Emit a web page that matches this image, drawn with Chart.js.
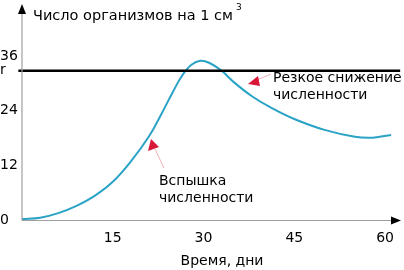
<!DOCTYPE html>
<html>
<head>
<meta charset="utf-8">
<script src="https://cdn.jsdelivr.net/npm/chart.js@4.4.1/dist/chart.umd.min.js"></script>
<style>
  html, body { margin: 0; padding: 0; background: #ffffff; }
  #wrap { width: 404px; height: 270px; position: relative; }
</style>
</head>
<body>
<div id="wrap"><canvas id="c" width="404" height="270"></canvas></div>
<script>
// ---- Data ----
const days = [0, 3, 6, 9, 12, 15, 18, 21, 23, 25, 26.5, 28, 29.5, 31, 33, 35, 38, 41, 45, 50, 55, 58, 61];
const organisms = [0.2, 0.5, 1.5, 3.1, 5.3, 8.4, 12.9, 18.4, 23.2, 28.3, 31.8, 34.1, 35, 34.5, 32.8, 30.3, 27.2, 24.8, 22.2, 19.8, 18.3, 18.1, 18.7];
const capacityR = 32.8;            // level "r"
const xTicks = [15, 30, 45, 60];
const yTicks = [0, 12, 24, capacityR, 36];
const yTickLabels = ['0', '12', '24', 'r', '36'];
const yTitle = 'Число организмов на 1 см';
const yTitleSup = '3';
const xTitle = 'Время, дни';
const noteRise = ['Вспышка', 'численности'];
const noteFall = ['Резкое снижение', 'численности'];

const FONT = '"DejaVu Sans", "Noto Sans", sans-serif';

const curve = days.map((d, i) => ({ x: d, y: organisms[i] }));
const rLine = [{ x: -0.6, y: capacityR }, { x: 62.5, y: capacityR }];

const decor = {
  id: 'decor',
  afterDatasetsDraw(chart) {
    const { ctx, chartArea: a } = chart;
    ctx.save();
    // axes (grey) with black arrowheads
    ctx.strokeStyle = '#a0a0a0';
    ctx.lineWidth = 1.2;
    ctx.beginPath();
    ctx.moveTo(a.left, a.bottom + 0.5);
    ctx.lineTo(a.left, 12);
    ctx.moveTo(a.left, a.bottom + 0.5);
    ctx.lineTo(393, a.bottom + 0.5);
    ctx.stroke();
    ctx.fillStyle = '#000';
    ctx.beginPath();
    ctx.moveTo(a.left, 4); ctx.lineTo(a.left - 4, 14); ctx.lineTo(a.left + 4, 14); ctx.closePath();
    ctx.fill();
    ctx.beginPath();
    ctx.moveTo(401, a.bottom + 0.5); ctx.lineTo(391, a.bottom - 3.5); ctx.lineTo(391, a.bottom + 4.5); ctx.closePath();
    ctx.fill();

    // red arrows with thin pink tails
    ctx.strokeStyle = '#f2b0ba';
    ctx.lineWidth = 1;
    ctx.beginPath();
    ctx.moveTo(155, 149); ctx.lineTo(164, 168);
    ctx.moveTo(257, 80); ctx.lineTo(271, 74);
    ctx.stroke();
    ctx.fillStyle = '#d8173a';
    ctx.beginPath();
    ctx.moveTo(151, 139); ctx.lineTo(148, 151); ctx.lineTo(159, 147); ctx.closePath();
    ctx.fill();
    ctx.beginPath();
    ctx.moveTo(248, 84); ctx.lineTo(258, 76); ctx.lineTo(260, 86); ctx.closePath();
    ctx.fill();

    // texts
    ctx.fillStyle = '#000';
    ctx.textBaseline = 'middle';
    ctx.textAlign = 'left';
    ctx.font = '14.5px ' + FONT;
    ctx.fillText(yTitle, 33, 16);
    const w = ctx.measureText(yTitle).width;
    ctx.font = '9px ' + FONT;
    ctx.fillText(yTitleSup, 33 + w + 3, 8);
    ctx.font = '14px ' + FONT;
    ctx.fillText(noteFall[0], 273, 78);
    ctx.fillText(noteFall[1], 273, 95);
    ctx.fillText(noteRise[0], 159, 181);
    ctx.fillText(noteRise[1], 159, 198);
    ctx.textAlign = 'center';
    ctx.fillText(xTitle, 222, 261);
    ctx.restore();
  }
};

new Chart(document.getElementById('c'), {
  type: 'line',
  data: {
    datasets: [
      {
        data: rLine,
        borderColor: '#000000',
        borderWidth: 2.5,
        pointRadius: 0,
        tension: 0,
        clip: false
      },
      {
        data: curve,
        borderColor: '#2aa3c6',
        borderWidth: 2,
        pointRadius: 0,
        tension: 0.4,
        fill: false
      }
    ]
  },
  options: {
    responsive: false,
    animation: false,
    devicePixelRatio: 1,
    layout: { padding: { top: 4, right: 1, left: 0, bottom: 0 } },
    plugins: { legend: { display: false }, tooltip: { enabled: false }, title: { display: false } },
    scales: {
      x: {
        type: 'linear',
        min: 0,
        max: 62.5,
        grid: { display: false, drawTicks: false },
        border: { display: false },
        afterBuildTicks: (s) => { s.ticks = xTicks.map(v => ({ value: v })); },
        afterFit: (s) => { s.height = 50; },
        ticks: {
          color: '#000',
          padding: 10,
          maxRotation: 0,
          font: { family: FONT, size: 14 }
        }
      },
      y: {
        type: 'linear',
        min: 0,
        max: 46.5,
        grid: { display: false, drawTicks: false },
        border: { display: false },
        afterBuildTicks: (s) => { s.ticks = yTicks.map(v => ({ value: v })); },
        afterFit: (s) => { s.width = 22; },
        ticks: {
          color: '#000',
          crossAlign: 'far',
          padding: 0,
          font: { family: FONT, size: 14 },
          callback: (v) => {
            const i = yTicks.indexOf(v);
            return i >= 0 ? yTickLabels[i] : '';
          }
        }
      }
    }
  },
  plugins: [decor]
});
</script>
</body>
</html>
